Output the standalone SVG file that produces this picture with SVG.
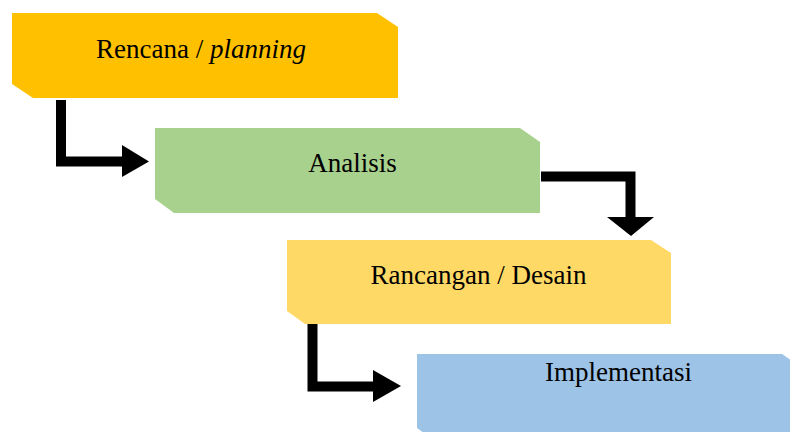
<svg xmlns="http://www.w3.org/2000/svg" width="790" height="432" viewBox="0 0 790 432">
<style>
  .lbl { font-family: "Liberation Serif", "Times New Roman", serif; font-size: 27px; fill: #000; text-anchor: middle; }
  .conn { fill: none; stroke: #000; stroke-width: 10; stroke-linejoin: miter; }
  .head { fill: #000; stroke: none; }
</style>
<rect width="790" height="432" fill="#fff"/>
<g id="node-rencana">
  <polygon points="12,13 377,13 398,27 398,98 33,98 12,84" fill="#FFC000"/>
  <text class="lbl" x="201" y="58">Rencana / <tspan font-style="italic">planning</tspan></text>
</g>
<g id="node-analisis">
  <polygon points="155,128 520,128 540,142 540,213 174,213 155,199" fill="#A9D18E"/>
  <text class="lbl" x="352.5" y="172">Analisis</text>
</g>
<g id="node-rancangan">
  <polygon points="287,240 651,240 671,253 671,324 305,324 287,311" fill="#FFD966"/>
  <text class="lbl" x="478.5" y="284">Rancangan / Desain</text>
</g>
<g id="node-implementasi">
  <polygon points="417,354 782,354 802,368 802,442 436,442 417,428" fill="#9DC3E6"/>
  <text class="lbl" x="618.5" y="381">Implementasi</text>
</g>
<g id="connectors">
  <path class="conn" d="M61,100 V161.5 H123"/>
  <polygon class="head" points="122,145 149,161.5 122,177"/>
  <path class="conn" stroke-width="8" d="M541,176.5 H630.5 V218"/>
  <polygon class="head" points="607,217 654,217 631,236"/>
  <path class="conn" d="M312.5,324 V386.5 H374"/>
  <polygon class="head" points="373,370 401,386 373,402"/>
</g>
</svg>
